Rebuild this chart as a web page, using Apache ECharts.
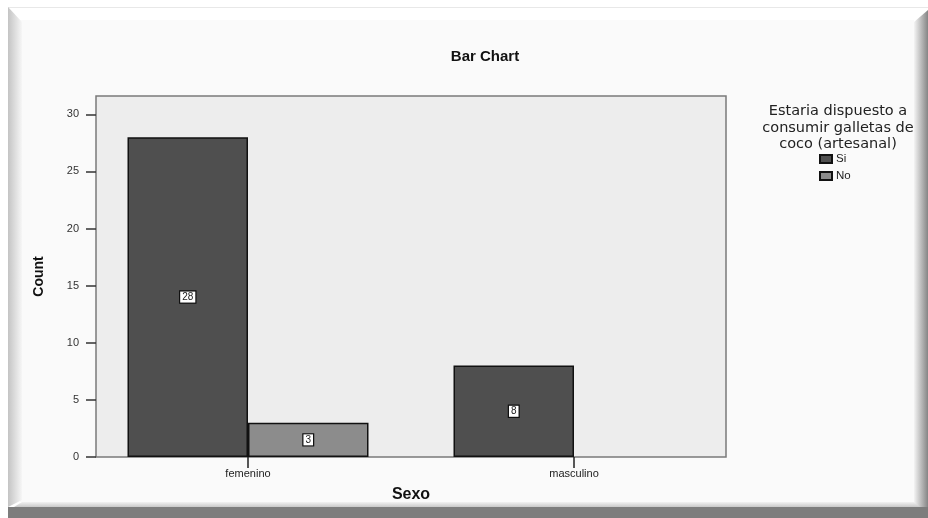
<!DOCTYPE html>
<html>
<head>
<meta charset="utf-8">
<script src="https://cdn.jsdelivr.net/npm/echarts@6/dist/echarts.min.js"></script>
<style>html,body{margin:0;padding:0;background:#fff;}#c{width:928px;height:518px;}</style>
</head>
<body>
<div id="c"></div>
<script>
var categories = ['femenino', 'masculino'];
var siValues = [28, 8];
var noValues = [3, null];
var seriesNames = ['Si', 'No'];
var yTicks = [0, 5, 10, 15, 20, 25, 30];
var yMax = 31.6;

var chart = echarts.init(document.getElementById('c'), null, {renderer: 'canvas'});
var FONT = 'Liberation Sans, Arial, sans-serif';

var labelStyle = {
  show: true, position: 'inside', color: '#222', fontSize: 10, fontFamily: FONT,
  backgroundColor: '#fff', borderColor: '#111', borderWidth: 1.2, padding: [1, 2, 0, 2]
};

var option = {
  backgroundColor: '#ffffff',
  animation: false,
  title: [
    {text: 'Bar Chart', left: 480, top: 44, textAlign: 'center',
     textStyle: {fontFamily: FONT, fontSize: 15, fontWeight: 'bold', color: '#111'}},
    {text: 'Estaria dispuesto a\nconsumir galletas de\ncoco (artesanal)', left: 833, top: 98, textAlign: 'center',
     textStyle: {fontFamily: 'DejaVu Sans, sans-serif', fontSize: 14.5, fontWeight: 'normal', color: '#222', lineHeight: 16.5}}
  ],
  legend: {
    data: seriesNames, orient: 'vertical', left: 814, top: 148,
    itemWidth: 12, itemHeight: 8, itemGap: 5, icon: 'rect',
    textStyle: {fontFamily: FONT, fontSize: 11.5, color: '#222', padding: [0, 0, 0, -1]}
  },
  grid: [
    {left: 96, top: 96, width: 630, height: 361, show: true, backgroundColor: '#ededed',
     borderColor: '#7a7a7a', borderWidth: 1.5, containLabel: false},
    {left: 85, top: 96, width: 652, height: 361, containLabel: false}
  ],
  xAxis: [
    {type: 'category', gridIndex: 0, data: categories, show: false},
    {type: 'category', gridIndex: 1, data: categories,
     axisLine: {show: false},
     axisTick: {show: true, alignWithLabel: true, length: 11, lineStyle: {color: '#222', width: 1.5}},
     axisLabel: {fontFamily: FONT, fontSize: 11, color: '#222', margin: 11},
     name: 'Sexo', nameLocation: 'middle', nameGap: 30,
     nameTextStyle: {fontFamily: FONT, fontSize: 16, fontWeight: 'bold', color: '#111'}},
  ],
  yAxis: [
    {type: 'value', gridIndex: 0, min: 0, max: yMax, interval: 5,
     splitLine: {show: false},
     axisLine: {show: false},
     axisTick: {show: true, length: 10, customValues: yTicks, lineStyle: {color: '#333', width: 1.5}},
     axisLabel: {fontFamily: FONT, fontSize: 11, color: '#333', margin: 17, customValues: yTicks},
     name: 'Count', nameLocation: 'middle', nameGap: 50, nameRotate: 90,
     nameTextStyle: {fontFamily: FONT, fontSize: 14, fontWeight: 'bold', color: '#111'}},
    {type: 'value', gridIndex: 1, min: 0, max: yMax, show: false, splitLine: {show: false}}
  ],
  series: [
    {name: seriesNames[0], type: 'bar', xAxisIndex: 1, yAxisIndex: 1, data: siValues,
     barWidth: 120.5, barGap: '0%',
     itemStyle: {color: '#4f4f4f', borderColor: '#111', borderWidth: 1.5},
     label: labelStyle},
    {name: seriesNames[1], type: 'bar', xAxisIndex: 1, yAxisIndex: 1, data: noValues,
     barWidth: 120.5, barGap: '0%',
     itemStyle: {color: '#8c8c8c', borderColor: '#111', borderWidth: 1.5},
     label: labelStyle}
  ],
  graphic: [
    {type: 'rect', z: -10, shape: {x: 20, y: 20, width: 894, height: 482}, style: {fill: '#fafafa'}, silent: true},
    {type: 'line', z: 100, shape: {x1: 8, y1: 7.5, x2: 928, y2: 7.5}, style: {stroke: '#e8e8e8', lineWidth: 1}, silent: true},
    {type: 'polygon', z: 100, shape: {points: [[8, 7], [22, 22], [22, 500], [8, 507]]},
     style: {fill: new echarts.graphic.LinearGradient(0, 0, 1, 0, [{offset: 0, color: '#c4c4c4'}, {offset: 1, color: '#f6f6f6'}])}, silent: true},
    {type: 'polygon', z: 100, shape: {points: [[914, 22], [928, 10], [928, 518], [914, 503]]},
     style: {fill: new echarts.graphic.LinearGradient(0, 0, 1, 0, [{offset: 0, color: '#f4f4f4'}, {offset: 1, color: '#858585'}])}, silent: true},
    {type: 'polygon', z: 100, shape: {points: [[22, 502], [914, 502], [920, 507], [14, 507]]},
     style: {fill: new echarts.graphic.LinearGradient(0, 0, 0, 1, [{offset: 0, color: '#f2f2f2'}, {offset: 1, color: '#c8c8c8'}])}, silent: true},
    {type: 'rect', z: 100, shape: {x: 8, y: 507, width: 920, height: 11}, style: {fill: '#7d7d7d'}, silent: true}
  ]
};
chart.setOption(option);
</script>
</body>
</html>
